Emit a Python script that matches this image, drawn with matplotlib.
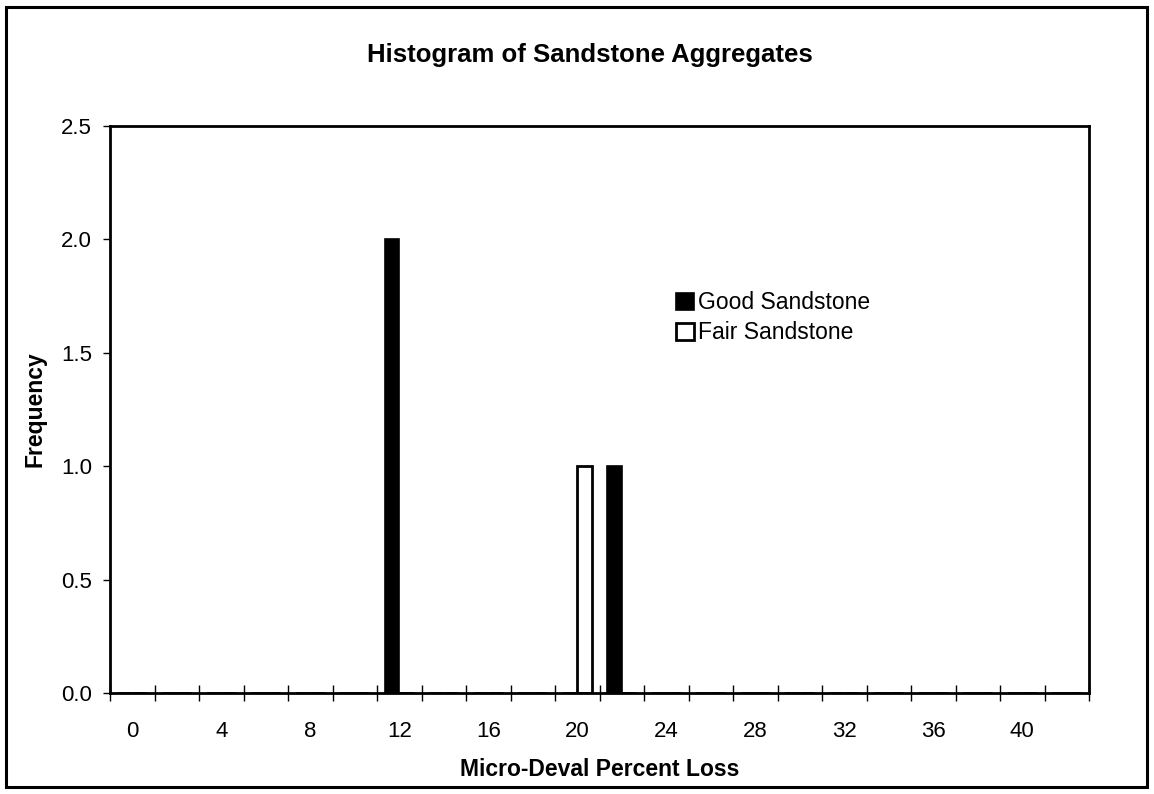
"""
Histogram of Sandstone Aggregates - Micro-Deval percent loss.
"""

import matplotlib
matplotlib.use('Agg')
from matplotlib import pyplot as plt
from matplotlib.patches import Rectangle
import numpy as np

# bins (Micro-Deval percent loss), every 2 %
bins = [0, 2, 4, 6, 8, 10, 12, 14, 16, 18, 20,
        22, 24, 26, 28, 30, 32, 34, 36, 38, 40, 42]
good_sandstone = [0, 0, 0, 0, 0, 0, 2, 0, 0, 0, 0,
                  1, 0, 0, 0, 0, 0, 0, 0, 0, 0, 0]
fair_sandstone = [0, 0, 0, 0, 0, 0, 0, 0, 0, 0, 1,
                  0, 0, 0, 0, 0, 0, 0, 0, 0, 0, 0]
y_ticks = [0.0, 0.5, 1.0, 1.5, 2.0, 2.5]

plt.rcParams['font.family'] = ['Liberation Sans', 'DejaVu Sans']

W, H = 1154, 794
fig = plt.figure(figsize=(W / 100, H / 100), dpi=100)

# outer chart border
fig.patches.append(Rectangle((6 / W, 7 / H), (1147 - 6) / W, (787 - 7) / H,
                             transform=fig.transFigure, fill=False,
                             edgecolor='black', linewidth=2.2))

ax = fig.add_axes([110 / W, (H - 693) / H, (1089 - 110) / W, (693 - 126) / H])

x = np.arange(len(bins))
w = 0.325
ax.bar(x - w / 2, good_sandstone, width=w, color='black', edgecolor='black',
       linewidth=1.2, label='Good Sandstone')
ax.bar(x + w / 2, fair_sandstone, width=w, color='white', edgecolor='black',
       linewidth=2, label='Fair Sandstone')

ax.set_xlim(-0.5, len(bins) - 0.5)
ax.set_ylim(0, 2.5)

# category labels at every other bin, tick marks at bin edges
ax.set_xticks(x[::2], [str(b) for b in bins[::2]])
ax.tick_params(axis='x', which='major', length=0, pad=20, labelsize=16)
ax.set_xticks(np.arange(len(bins) + 1) - 0.5, minor=True)
ax.tick_params(axis='x', which='minor', direction='inout', length=11, width=1)

ax.set_yticks(y_ticks, [f'{v:.1f}' for v in y_ticks])
ax.tick_params(axis='y', direction='out', length=5, width=1, labelsize=16, pad=8)

for s in ax.spines.values():
    s.set_linewidth(2)

ax.set_xlabel('Micro-Deval Percent Loss', fontsize=16.5, fontweight='bold', va='center')
ax.xaxis.set_label_coords(0.5, (693 - 769) / (693 - 126))
ax.set_ylabel('Frequency', fontsize=16.5, fontweight='bold', va='center')
ax.yaxis.set_label_coords((35 - 110) / (1089 - 110), 0.5)
fig.text(590 / W, (H - 55) / H, 'Histogram of Sandstone Aggregates', ha='center',
         va='center', fontsize=18.5, fontweight='bold')

leg = ax.legend(loc='upper left',
                bbox_to_anchor=((665 - 110) / (1089 - 110), 1 - (280 - 126) / (693 - 126)),
                frameon=False, fontsize=16.5, handlelength=0.75, handleheight=0.75,
                handletextpad=0.2, labelspacing=0.3, borderpad=0)

fig.savefig('out.png', dpi=100)
